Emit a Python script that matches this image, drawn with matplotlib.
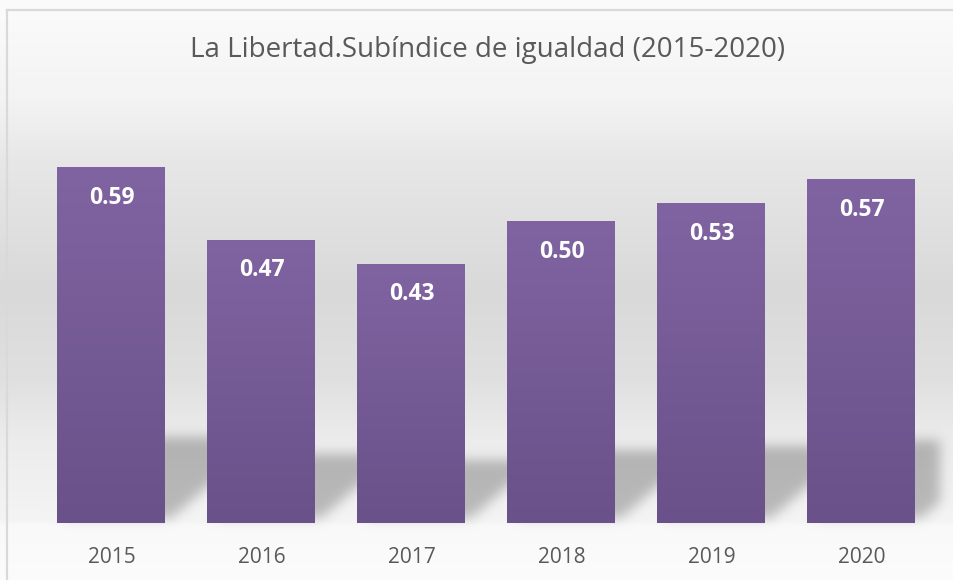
import matplotlib
matplotlib.use("Agg")
import matplotlib.pyplot as plt
import numpy as np

years = ["2015", "2016", "2017", "2018", "2019", "2020"]
values = [0.59, 0.47, 0.43, 0.50, 0.53, 0.57]
labels = ["0.59", "0.47", "0.43", "0.50", "0.53", "0.57"]
title = "La Libertad.Subíndice de igualdad (2015-2020)"

W, H = 954, 580
plt.rcParams['font.family'] = ['Open Sans', 'DejaVu Sans']

fig = plt.figure(figsize=(W / 100, H / 100), dpi=100)

# main axes (bars)
ax = fig.add_axes([36.5 / W, (H - 523) / H, 900 / W, 383 / H], zorder=2)
ax.set_xlim(-0.5, len(years) - 0.5)
ax.set_ylim(0, 383 / 603)
ax.patch.set_alpha(0)

# background: grey wall gradient + floor + blurred bar shadows
rows = np.arange(H)
stops_y = [0, 9, 100, 160, 290, 380, 440, 520, 525, 580]
stops_c = [250, 251, 243, 231, 217, 224, 236, 244, 249, 252]
col = np.interp(rows, stops_y, stops_c)
bg = np.repeat(col[:, None], W, axis=1)

# perspective shadow: each bar squashed and skewed to the upper right
mask = np.zeros((H, W))
bw = 0.72
for i, v in enumerate(values):
    (x0, yb), (x1, yt) = ax.transData.transform([(i - bw / 2, 0), (i + bw / 2, v)])
    rb = H - yb
    hs = 0.24 * (yt - yb)
    rt = rb - hs
    s = 1.15 * hs
    for r in range(int(rt), int(rb) - 5):
        t = (rb - r) / hs
        mask[r, int(x0 + s * t):min(int(x1 + s * t), 940)] = 1

sig = 6
k = np.exp(-0.5 * (np.arange(-18, 19) / sig) ** 2)
k /= k.sum()
mask = np.apply_along_axis(lambda m: np.convolve(m, k, mode="same"), 0, mask)
mask = np.apply_along_axis(lambda m: np.convolve(m, k, mode="same"), 1, mask)
bg = bg - 58 * mask
img = np.clip(np.dstack([bg, bg, bg]) / 255, 0, 1)

bgax = fig.add_axes([0, 0, 1, 1], zorder=0)
bgax.imshow(img, extent=(0, W, H, 0), aspect="auto", interpolation="bilinear")
bgax.plot([7, 7], [9.5, H], color="#d9d9d9", lw=1.6)
bgax.plot([7, W], [9.5, 9.5], color="#d9d9d9", lw=1.6)
bgax.set_xlim(0, W)
bgax.set_ylim(H, 0)
bgax.axis("off")

# bars with vertical gradient
top_c = np.array([128, 100, 162]) / 255
bot_c = np.array([106, 81, 137]) / 255
grad = np.linspace(0, 1, 256)[:, None, None]
grad = top_c * (1 - grad) + bot_c * grad
bars = ax.bar(range(len(years)), values, width=bw, color="#7560a0", zorder=2)
for b, v in zip(bars, values):
    im = ax.imshow(grad, extent=(b.get_x(), b.get_x() + b.get_width(), 0, v),
                   aspect="auto", zorder=3, interpolation="bilinear")
    im.set_clip_path(b)

for i, (v, s) in enumerate(zip(values, labels)):
    ax.annotate(s, (i, v), xytext=(0, -22), textcoords="offset points",
                ha="center", va="center", color="white", fontsize=16.5,
                fontweight="bold", zorder=4)

ax.set_xlim(-0.5, len(years) - 0.5)
ax.set_ylim(0, 383 / 603)
ax.set_xticks(range(len(years)), years)
ax.tick_params(axis="x", length=0, pad=17, labelsize=15, labelcolor="#595959")
ax.set_yticks([])
for s in ax.spines.values():
    s.set_visible(False)

fig.text(0.511, 1 - 50 / H, title, ha="center", va="center",
         fontsize=20, color="#595959")

fig.savefig("out.png", dpi=100)
